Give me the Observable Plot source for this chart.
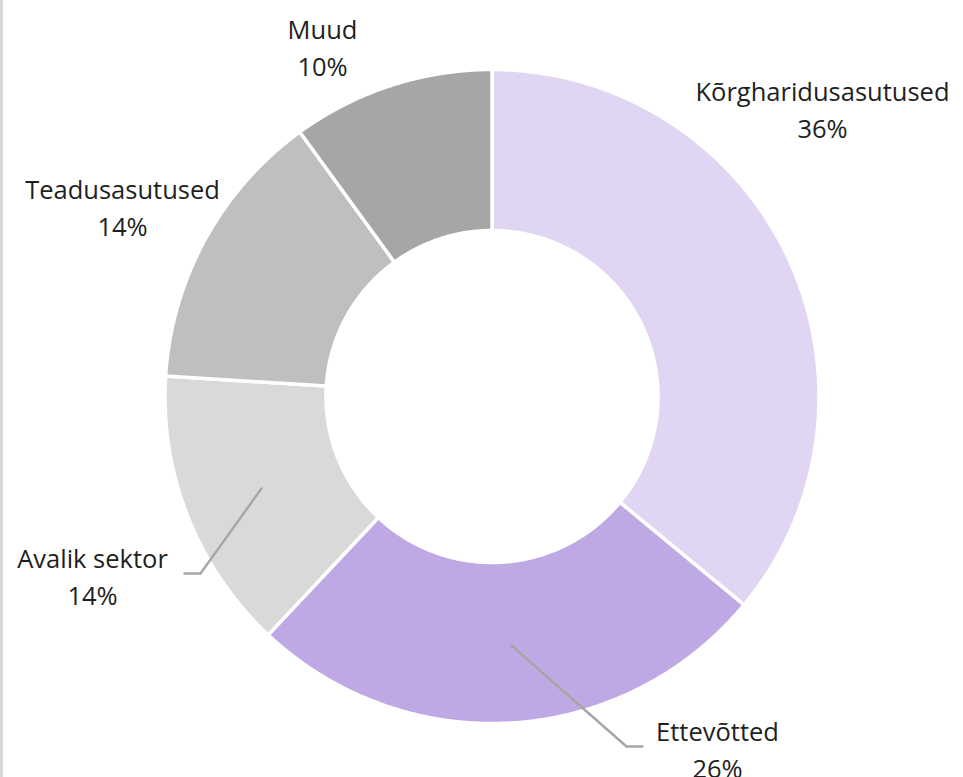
<!DOCTYPE html>
<html>
<head>
<meta charset="utf-8">
<script src="https://cdn.jsdelivr.net/npm/d3@7"></script>
<script src="https://cdn.jsdelivr.net/npm/@observablehq/plot@0.6"></script>
<style>
  html, body { margin: 0; padding: 0; background: #fff; }
  #wrap { position: relative; width: 963px; height: 777px; overflow: hidden; }
  #edge { position: absolute; left: 0; top: 0; width: 3px; height: 777px; background: #d9d9d9; }
</style>
</head>
<body>
<div id="wrap"><div id="edge"></div><div id="chart"></div></div>
<script>
// ---- data ----
const categories = ["Kõrgharidusasutused", "Ettevõtted", "Avalik sektor", "Teadusasutused", "Muud"];
const shares = [36, 26, 14, 14, 10];
const colors = ["#E0D6F3", "#BFA9E4", "#D9D9D9", "#BFBFBF", "#A6A6A6"];

// ---- layout (pixels) ----
const W = 963, H = 777;
const cx = 491.5, cy = 396;
const rOuter = 327, rInner = 166;
const labelPx = [[822, 107], [717, 747], [92, 574], [122, 205], [322, 45]];
const leaderPx = {
  "Avalik sektor": [[261, 488], [200, 573], [184, 573]],
  "Ettevõtted": [[511, 645], [626, 746], [642, 746]]
};

// ---- build slice outlines from the shares ----
const total = d3.sum(shares);
const slicePts = [];
let cum = 0;
categories.forEach((name, i) => {
  const a0 = cum / total * 2 * Math.PI;
  cum += shares[i];
  const a1 = cum / total * 2 * Math.PI;
  const n = Math.max(8, Math.ceil((a1 - a0) / (Math.PI / 360)));
  for (let k = 0; k <= n; k++) {
    const a = a0 + (a1 - a0) * k / n;
    slicePts.push({name, x: rOuter * Math.sin(a), y: rOuter * Math.cos(a)});
  }
  for (let k = n; k >= 0; k--) {
    const a = a0 + (a1 - a0) * k / n;
    slicePts.push({name, x: rInner * Math.sin(a), y: rInner * Math.cos(a)});
  }
  slicePts.push({name, x: rOuter * Math.sin(a0), y: rOuter * Math.cos(a0)});
});

const labels = categories.map((name, i) => ({
  name,
  text: `${name}\n${shares[i]}%`,
  x: labelPx[i][0] - cx,
  y: cy - labelPx[i][1]
}));

const leaders = [];
Object.entries(leaderPx).forEach(([name, pts]) =>
  pts.forEach(([px, py]) => leaders.push({name, x: px - cx, y: cy - py}))
);

const chart = Plot.plot({
  width: W,
  height: H,
  margin: 0,
  x: {domain: [-cx, W - cx], axis: null},
  y: {domain: [cy - H, cy], axis: null},
  color: {domain: categories, range: colors},
  style: {background: "transparent"},
  marks: [
    Plot.line(slicePts, {
      x: "x", y: "y", z: "name",
      fill: "name", stroke: "#ffffff", strokeWidth: 3.5,
      strokeLinejoin: "miter", curve: "linear"
    }),
    Plot.line(leaders, {
      x: "x", y: "y", z: "name",
      stroke: "#A6A6A6", strokeWidth: 2.4, curve: "linear"
    }),
    Plot.text(labels, {
      x: "x", y: "y", text: "text",
      fontSize: 25.5, lineHeight: 1.46,
      fontFamily: "'Open Sans', sans-serif",
      fill: "#1f1f1f", textAnchor: "middle", lineAnchor: "middle"
    })
  ]
});
document.getElementById("chart").appendChild(chart);
</script>
</body>
</html>
